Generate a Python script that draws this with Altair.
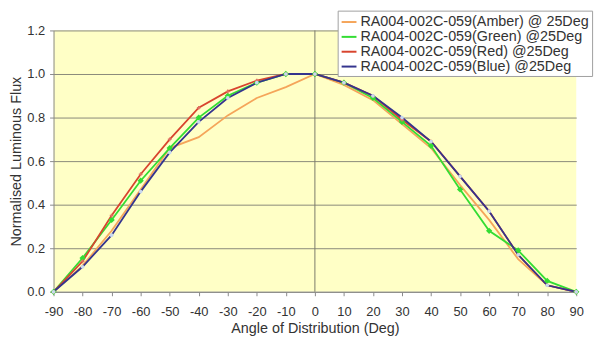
import altair as alt
import pandas as pd

angles = [-90, -80, -70, -60, -50, -40, -30, -20, -10, 0, 10, 20, 30, 40, 50, 60, 70, 80, 90]
amber = [0.0, 0.12, 0.28, 0.47, 0.66, 0.71, 0.81, 0.89, 0.94, 1.0, 0.95, 0.88, 0.77, 0.66, 0.49, 0.33, 0.15, 0.03, 0.0]
green = [0.0, 0.155, 0.33, 0.51, 0.66, 0.80, 0.90, 0.96, 1.0, 1.0, 0.96, 0.89, 0.78, 0.67, 0.47, 0.28, 0.19, 0.05, 0.0]
red = [0.0, 0.14, 0.35, 0.54, 0.70, 0.845, 0.92, 0.97, 1.0, 1.0, 0.96, 0.90, 0.79, 0.69, 0.53, 0.37, 0.17, 0.03, 0.0]
blue = [0.0, 0.115, 0.26, 0.46, 0.64, 0.78, 0.89, 0.96, 1.0, 1.0, 0.96, 0.90, 0.80, 0.69, 0.53, 0.37, 0.17, 0.03, 0.0]

series_names = [
    "RA004-002C-059(Amber) @ 25Deg",
    "RA004-002C-059(Green) @25Deg",
    "RA004-002C-059(Red) @25Deg",
    "RA004-002C-059(Blue) @25Deg",
]
series_colors = ["#F5A55A", "#33DD33", "#D8442E", "#34348E"]
zero_line = [0]
y_ticks = [0, 0.2, 0.4, 0.6, 0.8, 1.0, 1.2]

rows = []
for name, vals in zip(series_names, [amber, green, red, blue]):
    for a, v in zip(angles, vals):
        rows.append({"angle": a, "flux": v, "series": name})
df = pd.DataFrame(rows)

font = "Liberation Sans"

x_enc = alt.X("angle:Q", scale=alt.Scale(domain=[-90, 90], nice=False),
              axis=alt.Axis(values=angles, title="Angle of Distribution (Deg)", grid=False,
                            labelExpr="datum.value + ''", labelOverlap=False, labelFlush=False,
                            labelBound=False, tickSize=4, labelPadding=10, titlePadding=3))
y_enc = alt.Y("flux:Q", scale=alt.Scale(domain=[0, 1.2], nice=False),
              axis=alt.Axis(values=y_ticks, format=".1f",
                            title="Normalised Luminous Flux", grid=True, labelOverlap=False,
                            tickSize=4, labelPadding=5, titlePadding=3))

color_enc = alt.Color("series:N", scale=alt.Scale(domain=series_names, range=series_colors),
                      sort=series_names,
                      legend=alt.Legend(title=None, orient="none", legendX=287, legendY=-20,
                                        symbolType="stroke", symbolSize=225, symbolStrokeWidth=2,
                                        labelFontSize=14.5, labelFont=font, labelColor="#333333",
                                        labelOffset=3, rowPadding=0,
                                        fillColor="white", strokeColor="#A0A0A0",
                                        padding=3, labelLimit=400))

zero = alt.Chart(pd.DataFrame({"angle": zero_line})).mark_rule(color="#7A7A6A", strokeWidth=1).encode(
    x=x_enc)

lines = alt.Chart(df).mark_line(strokeWidth=1.8).encode(
    x=x_enc, y=y_enc, color=color_enc, order="angle:Q", detail="series:N")

green_pts = alt.Chart(df[df.series == series_names[1]]).mark_point(
    shape="diamond", filled=True, size=40, color="#33DD33", opacity=1).encode(x=x_enc, y=y_enc)
red_pts = alt.Chart(df[df.series == series_names[2]]).mark_point(
    shape="cross", filled=True, size=14, color="#E07060", opacity=1).encode(x=x_enc, y=y_enc)
blue_pts = alt.Chart(df[df.series == series_names[3]]).mark_point(
    shape="circle", filled=True, size=14, color="#C8D8F0", opacity=1).encode(x=x_enc, y=y_enc)

chart = alt.layer(zero, lines, green_pts, red_pts, blue_pts).properties(
    width=528, height=264,
    autosize=alt.AutoSizeParams(type="none"),
    padding={"left": 46, "top": 21, "right": 25, "bottom": 44},
).configure_view(
    fill="#FFFFC6", stroke=None
).configure_axis(
    labelFont=font, titleFont=font, labelFontSize=13, titleFontSize=14.5,
    labelColor="#333333", titleColor="#333333", titleFontWeight="normal",
    domainColor="#8A8A8A", tickColor="#8A8A8A", gridColor="#8A8A7A", gridWidth=1
)

chart.save("out.html", embed_options={"renderer": "svg", "actions": False})
